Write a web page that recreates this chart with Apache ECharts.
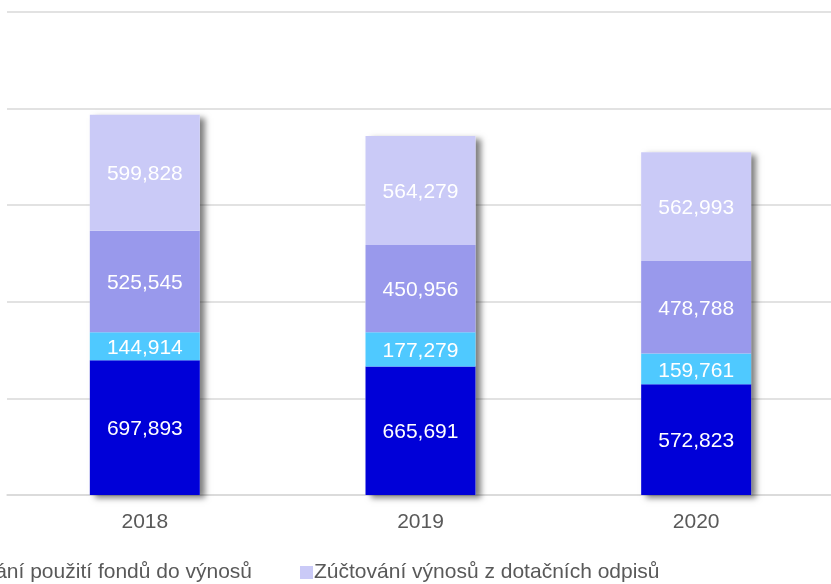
<!DOCTYPE html>
<html>
<head>
<meta charset="utf-8">
<script src="https://cdn.jsdelivr.net/npm/echarts@6/dist/echarts.min.js"></script>
<style>
html, body { margin: 0; padding: 0; background: #fff; }
#chart { width: 831px; height: 584px; }
</style>
</head>
<body>
<div id="chart"></div>
<script>
// data
const years = ['2018', '2019', '2020']
const seriesNames = ['Výnosy', 'Ostatní výnosy', 'Zúčtování použití fondů do výnosů', 'Zúčtování výnosů z dotačních odpisů']
const s1 = [697893, 665691, 572823]
const s2 = [144914, 177279, 159761]
const s3 = [525545, 450956, 478788]
const s4 = [599828, 564279, 562993]
const colors = ['#0000D8', '#4FC9FF', '#9999EC', '#CACAF7']
const yTicks = [0, 500000, 1000000, 1500000, 2000000, 2500000]

const font = 'Arial, "Liberation Sans", sans-serif'
const fs = 21
const totals = years.map((y, i) => s1[i] + s2[i] + s3[i] + s4[i])

// legend is cut off on the left in the original, put it so only the end of item 3 is visible
function textWidth(str, size) {
    const c = document.createElement('canvas').getContext('2d')
    c.font = size + 'px ' + font
    return c.measureText(str).width
}
const legendGap = 48
const legendLeft = 300 - legendGap - textWidth(seriesNames[2], fs) - 19

const chart = echarts.init(document.getElementById('chart'))

const labelStyle = {
    show: true,
    position: 'inside',
    offset: [0, 2],
    color: '#fff',
    fontSize: fs,
    fontFamily: font,
    formatter: p => p.value.toLocaleString('en-US')
}

function stackSeries(name, data, color) {
    return {
        name: name,
        type: 'bar',
        stack: 'total',
        data: data,
        barWidth: 110,
        itemStyle: { color: color },
        label: labelStyle
    }
}

const option = {
    backgroundColor: '#fff',
    animation: false,
    grid: {
        left: 7,
        right: -3,
        top: 12,
        bottom: 89,
        outerBoundsMode: 'none'
    },
    legend: {
        data: [seriesNames[2], seriesNames[3]],
        left: legendLeft,
        top: 557,
        itemWidth: 13,
        itemHeight: 13,
        itemGap: legendGap,
        icon: 'rect',
        textStyle: { color: '#595959', fontSize: fs, fontFamily: font, padding: [0, 0, 0, -4] }
    },
    xAxis: {
        type: 'category',
        data: years,
        axisLine: { lineStyle: { color: '#D9D9D9', width: 1.5 } },
        axisTick: { show: false },
        axisLabel: { color: '#595959', fontSize: fs, fontFamily: font, margin: 17 }
    },
    yAxis: {
        type: 'value',
        min: yTicks[0],
        max: yTicks[yTicks.length - 1],
        interval: yTicks[1] - yTicks[0],
        axisLabel: { show: false },
        axisLine: { show: false },
        axisTick: { show: false },
        splitLine: { lineStyle: { color: '#D9D9D9', width: 1.5 } }
    },
    series: [
        // shadow behind whole stacked bar
        {
            name: 'shadow',
            type: 'bar',
            stack: 'shadow',
            data: totals,
            barWidth: 110,
            barGap: '-100%',
            silent: true,
            itemStyle: {
                color: '#fff',
                shadowColor: 'rgba(0,0,0,0.5)',
                shadowBlur: 6,
                shadowOffsetX: 5,
                shadowOffsetY: 3
            }
        },
        stackSeries(seriesNames[0], s1, colors[0]),
        stackSeries(seriesNames[1], s2, colors[1]),
        stackSeries(seriesNames[2], s3, colors[2]),
        stackSeries(seriesNames[3], s4, colors[3])
    ]
}
chart.setOption(option)
</script>
</body>
</html>
